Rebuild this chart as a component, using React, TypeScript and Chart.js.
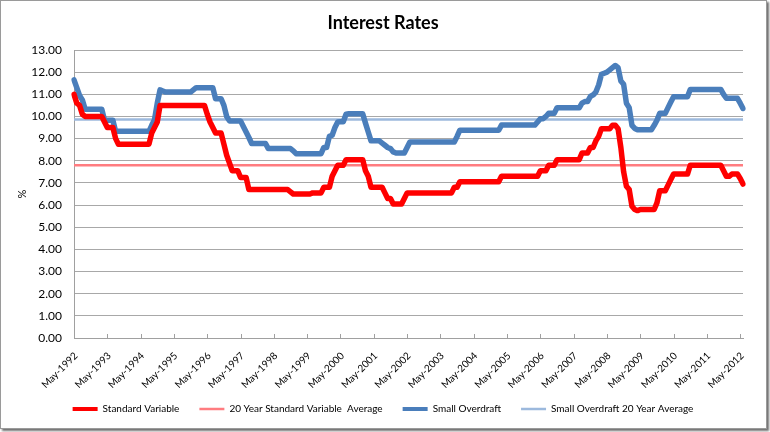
import { useEffect, useRef } from "react";
import { Chart, registerables } from "chart.js";

Chart.register(...registerables);

const MONTHS = ["Jan", "Feb", "Mar", "Apr", "May", "Jun", "Jul", "Aug", "Sep", "Oct", "Nov", "Dec"];
const START_MONTH = 4; // May
const START_YEAR = 1992;
const LABEL_EVERY = 12;

// Standard Variable (%), monthly from May-1992
const STANDARD_VARIABLE = [
  11.0, 10.6, 10.5, 10.1, 10.0, 10.0, 10.0, 10.0, 10.0, 10.0, 10.0, 9.75,
  9.5, 9.5, 9.5, 9.0, 8.75, 8.75, 8.75, 8.75, 8.75, 8.75, 8.75, 8.75,
  8.75, 8.75, 8.75, 8.75, 9.25, 9.5, 9.75, 10.5, 10.5, 10.5, 10.5, 10.5,
  10.5, 10.5, 10.5, 10.5, 10.5, 10.5, 10.5, 10.5, 10.5, 10.5, 10.5, 10.5,
  10.1, 9.75, 9.5, 9.25, 9.25, 9.25, 8.75, 8.25, 7.9, 7.55, 7.55, 7.55,
  7.25, 7.25, 7.25, 6.7, 6.7, 6.7, 6.7, 6.7, 6.7, 6.7, 6.7, 6.7,
  6.7, 6.7, 6.7, 6.7, 6.7, 6.7, 6.6, 6.5, 6.5, 6.5, 6.5, 6.5,
  6.5, 6.5, 6.55, 6.55, 6.55, 6.55, 6.8, 6.8, 6.8, 7.3, 7.55, 7.8,
  7.8, 7.8, 8.05, 8.05, 8.05, 8.05, 8.05, 8.05, 8.05, 7.55, 7.3, 6.8,
  6.8, 6.8, 6.8, 6.8, 6.55, 6.3, 6.3, 6.05, 6.05, 6.05, 6.05, 6.3,
  6.55, 6.55, 6.55, 6.55, 6.55, 6.55, 6.55, 6.55, 6.55, 6.55, 6.55, 6.55,
  6.55, 6.55, 6.55, 6.55, 6.55, 6.8, 6.8, 7.05, 7.05, 7.05, 7.05, 7.05,
  7.05, 7.05, 7.05, 7.05, 7.05, 7.05, 7.05, 7.05, 7.05, 7.05, 7.3, 7.3,
  7.3, 7.3, 7.3, 7.3, 7.3, 7.3, 7.3, 7.3, 7.3, 7.3, 7.3, 7.3,
  7.55, 7.55, 7.55, 7.8, 7.8, 7.8, 8.05, 8.05, 8.05, 8.05, 8.05, 8.05,
  8.05, 8.05, 8.05, 8.35, 8.35, 8.35, 8.6, 8.6, 8.9, 9.1, 9.45, 9.45,
  9.45, 9.45, 9.6, 9.6, 9.45, 8.6, 7.5, 6.85, 6.7, 5.95, 5.8, 5.75,
  5.8, 5.8, 5.8, 5.8, 5.8, 5.8, 6.1, 6.65, 6.65, 6.65, 6.9, 7.15,
  7.4, 7.4, 7.4, 7.4, 7.4, 7.4, 7.8, 7.8, 7.8, 7.8, 7.8, 7.8,
  7.8, 7.8, 7.8, 7.8, 7.8, 7.8, 7.55, 7.3, 7.3, 7.4, 7.4, 7.4,
  7.2, 6.95,
];

// Small Overdraft (%), monthly from May-1992
const SMALL_OVERDRAFT = [
  11.65, 11.3, 10.95, 10.75, 10.33, 10.33, 10.33, 10.33, 10.33, 10.33, 10.33, 9.83,
  9.83, 9.83, 9.83, 9.33, 9.33, 9.33, 9.33, 9.33, 9.33, 9.33, 9.33, 9.33,
  9.33, 9.33, 9.33, 9.33, 9.6, 9.85, 10.6, 11.2, 11.15, 11.1, 11.1, 11.1,
  11.1, 11.1, 11.1, 11.1, 11.1, 11.1, 11.1, 11.2, 11.3, 11.3, 11.3, 11.3,
  11.3, 11.3, 11.3, 10.8, 10.8, 10.8, 10.5, 10.0, 9.8, 9.8, 9.8, 9.8,
  9.8, 9.55, 9.3, 9.05, 8.78, 8.78, 8.78, 8.78, 8.78, 8.78, 8.55, 8.55,
  8.55, 8.55, 8.55, 8.55, 8.55, 8.55, 8.55, 8.45, 8.32, 8.32, 8.32, 8.32,
  8.32, 8.32, 8.32, 8.32, 8.32, 8.32, 8.6, 8.6, 9.1, 9.15, 9.5, 9.75,
  9.76, 9.76, 10.1, 10.12, 10.12, 10.12, 10.12, 10.12, 10.12, 9.7, 9.3, 8.9,
  8.9, 8.9, 8.9, 8.8, 8.7, 8.6, 8.55, 8.4, 8.35, 8.35, 8.35, 8.35,
  8.6, 8.85, 8.85, 8.85, 8.85, 8.85, 8.85, 8.85, 8.85, 8.85, 8.85, 8.85,
  8.85, 8.85, 8.85, 8.85, 8.85, 8.85, 9.1, 9.38, 9.38, 9.38, 9.38, 9.38,
  9.38, 9.38, 9.38, 9.38, 9.38, 9.38, 9.38, 9.38, 9.38, 9.38, 9.61, 9.61,
  9.61, 9.61, 9.61, 9.61, 9.61, 9.61, 9.61, 9.61, 9.61, 9.61, 9.61, 9.75,
  9.9, 9.9, 10.0, 10.14, 10.14, 10.14, 10.39, 10.39, 10.39, 10.39, 10.39, 10.39,
  10.39, 10.39, 10.39, 10.6, 10.67, 10.67, 10.9, 10.97, 11.1, 11.42, 11.9, 11.95,
  12.0, 12.1, 12.2, 12.3, 12.2, 11.6, 11.45, 10.6, 10.4, 9.6, 9.46, 9.4,
  9.4, 9.4, 9.4, 9.4, 9.4, 9.6, 9.83, 10.14, 10.14, 10.14, 10.4, 10.65,
  10.89, 10.89, 10.89, 10.89, 10.89, 10.89, 11.22, 11.22, 11.22, 11.22, 11.22, 11.22,
  11.22, 11.22, 11.22, 11.22, 11.22, 11.22, 11.0, 10.82, 10.82, 10.82, 10.82, 10.82,
  10.6, 10.36,
];

const STANDARD_VARIABLE_AVG = 7.8;
const SMALL_OVERDRAFT_AVG = 9.86;

const LABELS = STANDARD_VARIABLE.map((_, i) => {
  const t = START_MONTH + i;
  return MONTHS[t % 12] + "-" + (START_YEAR + Math.floor(t / 12));
});

const FONT = "Lato, 'Open Sans', sans-serif";

// Draws the small inward tick marks and the rotated category labels of the x axis,
// positioned through the x scale.
const xAxisDecor = {
  id: "xAxisDecor",
  afterDraw(chart: any) {
    const xs = chart.scales.x;
    const ctx = chart.ctx;
    const bottom = chart.chartArea.bottom;
    ctx.save();
    ctx.strokeStyle = "#a0a0a0";
    ctx.lineWidth = 1;
    ctx.fillStyle = "#000";
    ctx.font = "10px " + FONT;
    ctx.textAlign = "right";
    ctx.textBaseline = "middle";
    LABELS.forEach((label, i) => {
      if (i % LABEL_EVERY !== 0) return;
      const px = xs.getPixelForValue(i);
      const sx = Math.round(px) + 0.5;
      ctx.beginPath();
      ctx.moveTo(sx, bottom);
      ctx.lineTo(sx, bottom - 4);
      ctx.stroke();
      ctx.save();
      ctx.translate(px + 2, bottom + 16);
      ctx.rotate(-Math.PI / 4);
      ctx.fillText(label, 0, 0);
      ctx.restore();
    });
    ctx.restore();
  },
};

export default function App() {
  const ref = useRef<HTMLCanvasElement>(null);

  useEffect(() => {
    if (!ref.current) return;
    const chart = new Chart(ref.current, {
      type: "line",
      data: {
        labels: LABELS,
        datasets: [
          {
            label: "Standard Variable",
            data: STANDARD_VARIABLE,
            borderColor: "#ff0000",
            backgroundColor: "#ff0000",
            borderWidth: 5.5,
            pointRadius: 0,
            borderJoinStyle: "round",
            borderCapStyle: "round",
          },
          {
            label: "20 Year Standard Variable  Average",
            data: STANDARD_VARIABLE.map(() => STANDARD_VARIABLE_AVG),
            borderColor: "#ff7c80",
            backgroundColor: "#ff7c80",
            borderWidth: 2.5,
            pointRadius: 0,
          },
          {
            label: "Small Overdraft",
            data: SMALL_OVERDRAFT,
            borderColor: "#4a7ebb",
            backgroundColor: "#4a7ebb",
            borderWidth: 5.5,
            pointRadius: 0,
            borderJoinStyle: "round",
            borderCapStyle: "round",
          },
          {
            label: "Small Overdraft 20 Year Average",
            data: SMALL_OVERDRAFT.map(() => SMALL_OVERDRAFT_AVG),
            borderColor: "#9cb9dd",
            backgroundColor: "#9cb9dd",
            borderWidth: 2.5,
            pointRadius: 0,
          },
        ],
      },
      options: {
        responsive: false,
        animation: false,
        devicePixelRatio: 1,
        layout: { padding: { left: 23, right: 27, top: 0, bottom: 8 } },
        plugins: {
          title: {
            display: true,
            text: "Interest Rates",
            color: "#000",
            font: { family: FONT, size: 18, weight: "bold" },
            padding: { top: 12, bottom: 16.4 },
          },
          legend: {
            position: "bottom",
            labels: {
              color: "#000",
              font: { family: FONT, size: 10 },
              usePointStyle: true,
              pointStyle: "line",
              pointStyleWidth: 25,
              padding: 20,
              generateLabels: (chart: any) =>
                Chart.defaults.plugins.legend.labels
                  .generateLabels(chart)
                  .map((l: any) => ({ ...l, lineWidth: Math.min(l.lineWidth, 4) })),
            },
          },
          tooltip: { enabled: false },
        },
        scales: {
          x: {
            type: "category",
            afterFit: (s: any) => {
              s.height = 46;
            },
            grid: { display: true, drawOnChartArea: false, drawTicks: false },
            border: { display: true, color: "#a0a0a0", width: 1 },
            ticks: { display: false, autoSkip: false },
          },
          y: {
            min: 0,
            max: 13,
            afterFit: (s: any) => {
              s.width = 51;
            },
            grid: { color: "#a8a8a8", lineWidth: 1, drawTicks: false },
            border: { display: true, color: "#a0a0a0", width: 1 },
            title: {
              display: true,
              text: "%",
              color: "#000",
              font: { family: FONT, size: 11 },
              padding: { top: -7.6, bottom: 0 },
            },
            ticks: {
              stepSize: 1,
              padding: 12,
              color: "#000",
              font: { family: FONT, size: 12 },
              callback: (v: any) => Number(v).toFixed(2),
            },
          },
        },
      },
      plugins: [xAxisDecor],
    });
    return () => chart.destroy();
  }, []);

  return (
    <div style={{ position: "absolute", left: 0, top: 0, width: 770, height: 432, background: "#fff" }}>
      <div
        style={{
          position: "absolute",
          left: 0,
          top: 0,
          width: 765,
          height: 427,
          border: "1px solid #9a9a9a",
          boxShadow: "2px 2px 2px #707070",
          background: "#fff",
        }}
      />
      <canvas ref={ref} width={770} height={432} style={{ position: "absolute", left: 0, top: 0 }} />
    </div>
  );
}
